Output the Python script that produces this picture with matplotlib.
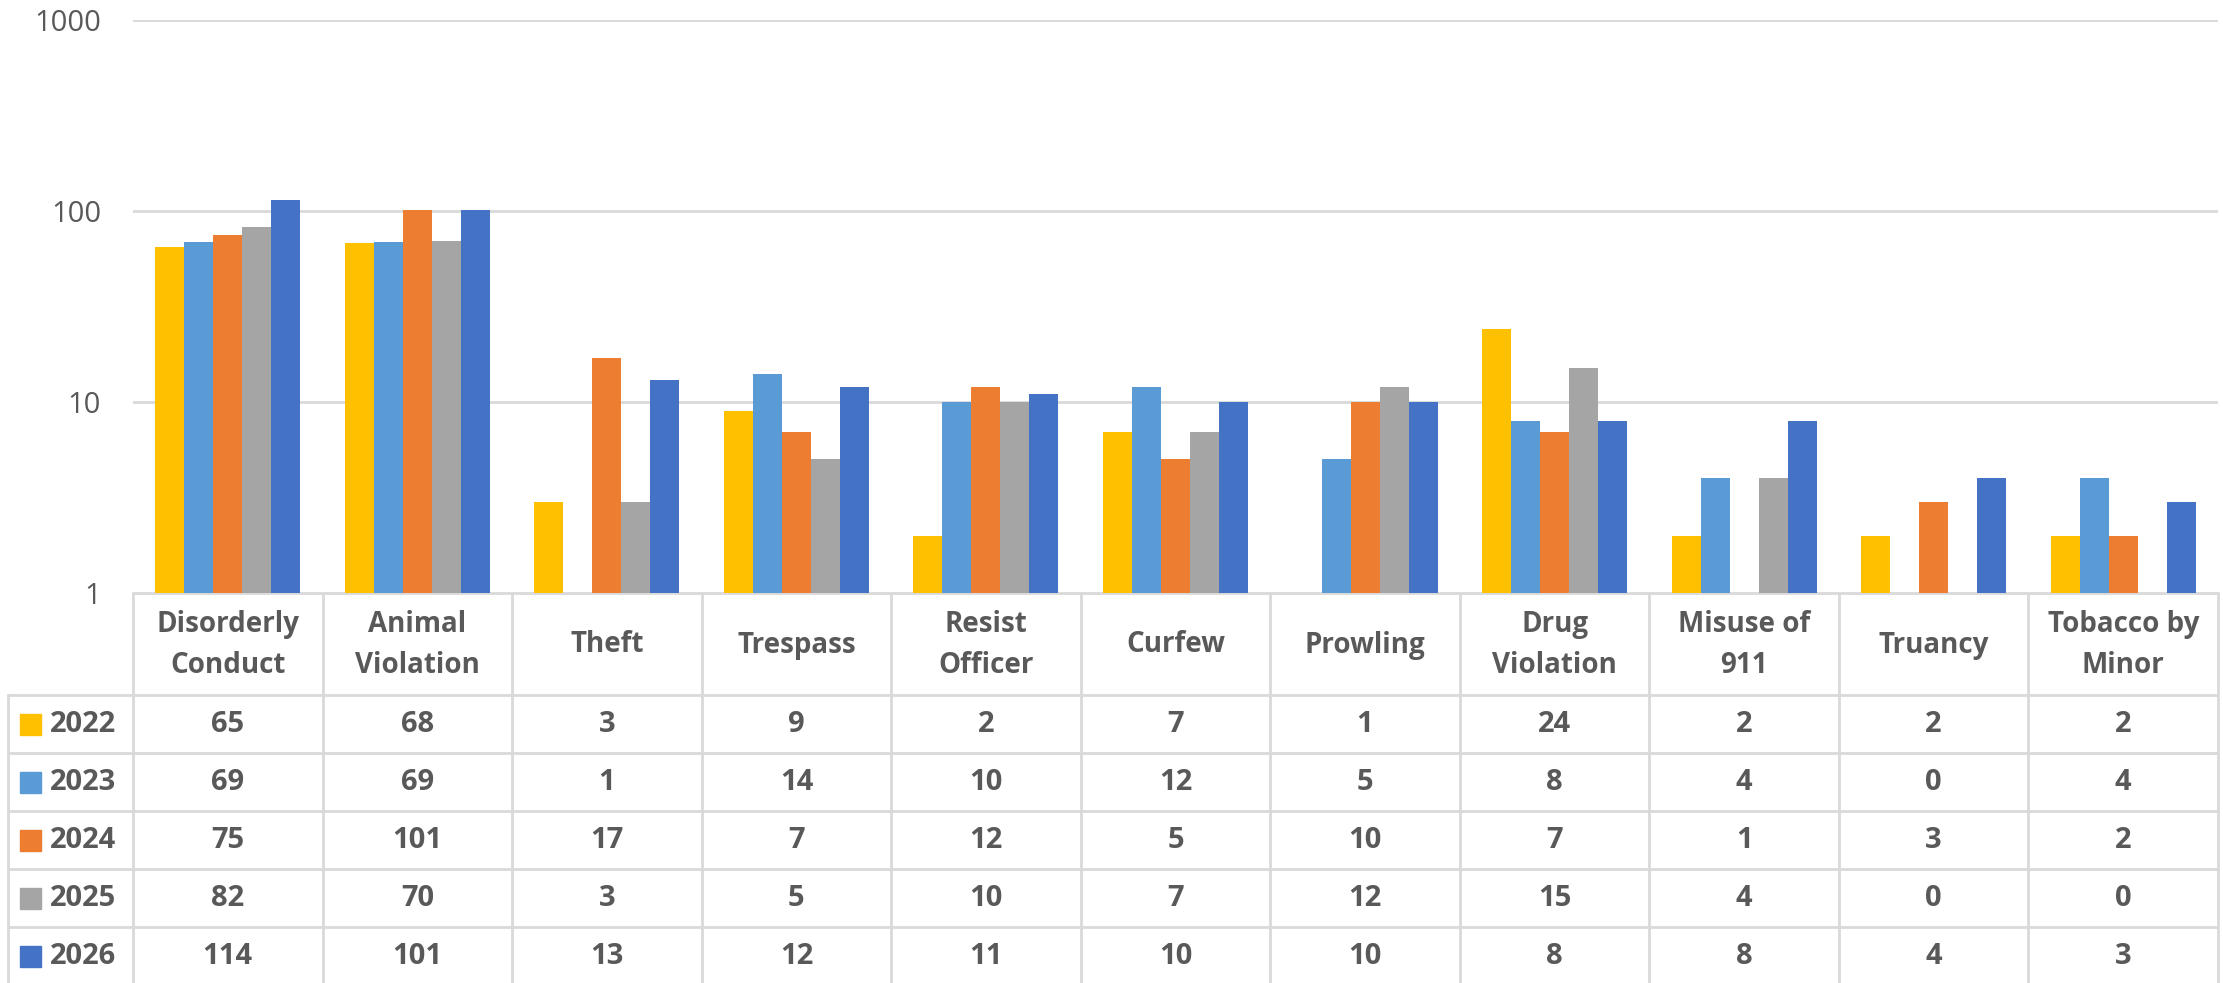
import matplotlib
matplotlib.use("Agg")
import matplotlib.pyplot as plt
import numpy as np
from matplotlib.transforms import blended_transform_factory

categories = ["Disorderly\nConduct", "Animal\nViolation", "Theft", "Trespass", "Resist\nOfficer",
              "Curfew", "Prowling", "Drug\nViolation", "Misuse of\n911", "Truancy", "Tobacco by\nMinor"]
years = ["2022", "2023", "2024", "2025", "2026"]
v2022 = [65, 68, 3, 9, 2, 7, 1, 24, 2, 2, 2]
v2023 = [69, 69, 1, 14, 10, 12, 5, 8, 4, 0, 4]
v2024 = [75, 101, 17, 7, 12, 5, 10, 7, 1, 3, 2]
v2025 = [82, 70, 3, 5, 10, 7, 12, 15, 4, 0, 0]
v2026 = [114, 101, 13, 12, 11, 10, 10, 8, 8, 4, 3]
series = [v2022, v2023, v2024, v2025, v2026]
colors = ["#FFC000", "#5B9BD5", "#ED7D31", "#A5A5A5", "#4472C4"]
yticks = [1, 10, 100, 1000]

plt.rcParams['font.family'] = ['Open Sans', 'DejaVu Sans']
W, H = 2223, 983
fig = plt.figure(figsize=(W / 100, H / 100), dpi=100)

left, right, top, bottom = 133, 2218, 20, 593
ax = fig.add_axes([left / W, (H - bottom) / H, (right - left) / W, (bottom - top) / H])
ax.set_yscale('log')
ax.set_ylim(1, 1000)
n = len(categories)
ax.set_xlim(-0.5, n - 0.5)
x = np.arange(n)
bw = 0.153
grid_c = "#D9D9D9"
txt_c = "#595959"
for k, (vals, c) in enumerate(zip(series, colors)):
    vals = np.array(vals, dtype=float)
    mask = vals > 1
    ax.bar(x[mask] + (k - 2) * bw, vals[mask] - 1, bottom=1, width=bw, color=c, zorder=3)
ax.set_yticks(yticks)
ax.set_yticklabels([str(t) for t in yticks])
ax.yaxis.set_minor_locator(matplotlib.ticker.NullLocator())
ax.tick_params(axis='y', length=0, pad=23, labelsize=21, labelcolor=txt_c)
ax.set_xticks([])
for s in ax.spines.values():
    s.set_visible(False)
ax.grid(axis='y', color=grid_c, linewidth=2, zorder=0)
ax.set_axisbelow(True)

# table axes in pixel coordinates
axt = fig.add_axes([0, 0, 1, 1], zorder=-1)
axt.set_xlim(0, W)
axt.set_ylim(H, 0)
axt.axis('off')
tr = blended_transform_factory(ax.transData, axt.transData)

row_h = 58
header_bottom = 695
row_tops = [header_bottom + i * row_h for i in range(len(years) + 1)]
lw = 2
axt.plot([left, right], [bottom, bottom], color=grid_c, lw=lw, solid_capstyle='butt')
for i in range(n + 1):
    axt.plot([i - 0.5, i - 0.5], [bottom, H + 10], color=grid_c, lw=lw, transform=tr)
axt.plot([8, 8], [header_bottom, H + 10], color=grid_c, lw=lw)
for yy in row_tops:
    axt.plot([8, right], [yy, yy], color=grid_c, lw=lw, solid_capstyle='butt')

for i, cat in enumerate(categories):
    axt.text(i, (bottom + header_bottom) / 2 + 1, cat, transform=tr, ha='center', va='center',
             fontsize=20, fontweight='bold', color=txt_c, linespacing=1.58)

for r, (yr, vals, c) in enumerate(zip(years, series, colors)):
    yc = row_tops[r] + row_h / 2
    axt.add_patch(plt.Rectangle((20, yc - 10.5), 21, 21, color=c))
    axt.text(50, yc, yr, ha='left', va='center', fontsize=21, fontweight='bold', color=txt_c)
    for i, v in enumerate(vals):
        axt.text(i, yc, str(v), transform=tr, ha='center', va='center',
                 fontsize=21, fontweight='bold', color=txt_c)

fig.savefig("out.png", dpi=100)
